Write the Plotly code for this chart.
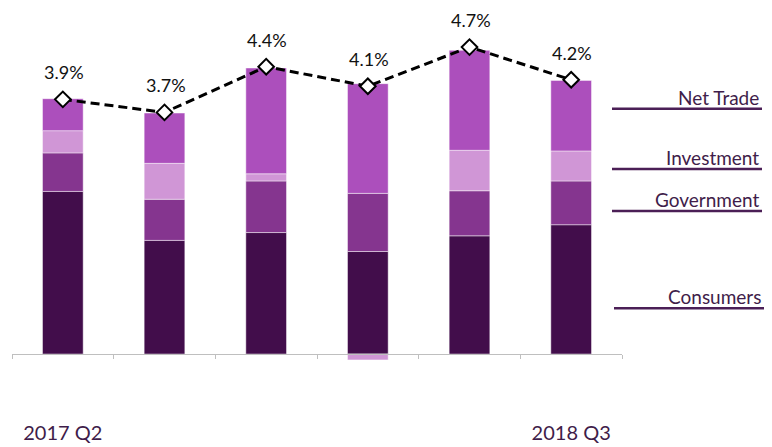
import plotly.graph_objects as go

# ---- data ----
quarters = ["2017 Q2", "2017 Q3", "2017 Q4", "2018 Q1", "2018 Q2", "2018 Q3"]
tick_labels = ["2017 Q2", "", "", "", "", "2018 Q3"]
consumers = [2.49, 1.74, 1.86, 1.57, 1.81, 1.98]
government = [0.59, 0.63, 0.79, 0.89, 0.69, 0.67]
investment = [0.34, 0.55, 0.11, -0.09, 0.62, 0.46]
net_trade = [0.49, 0.77, 1.62, 1.68, 1.53, 1.08]
growth = [3.9, 3.7, 4.4, 4.1, 4.7, 4.2]
growth_labels = [f"{v:.1f}%" for v in growth]
series_names = ["Consumers", "Government", "Investment", "Net Trade"]

# ---- style ----
colors = {
    "Consumers": "#420D4B",
    "Government": "#85358F",
    "Investment": "#D096D6",
    "Net Trade": "#AC4FBC",
}
text_purple = "#3F1D4A"
FONT = "Lato"

W, H = 772, 447
BODY = 8  # default page body margin
ML, MT = 12 - BODY, 20 - BODY
PLOT_W, PLOT_H = 610, 360
MR = W - ML - PLOT_W
MB = H - MT - PLOT_H
YMIN, YMAX = -0.398, 5.115

fig = go.Figure()
for name, vals in zip(series_names, [consumers, government, investment, net_trade]):
    fig.add_trace(go.Bar(
        x=quarters, y=vals, name=name, width=0.4,
        marker=dict(color=colors[name], line=dict(color="rgba(255,255,255,0.45)", width=1)),
        showlegend=False, hoverinfo="skip",
    ))

fig.add_trace(go.Scatter(
    x=quarters, y=growth, mode="lines+markers",
    line=dict(color="black", width=3, dash="9px,5px"),
    marker=dict(symbol="diamond", size=12, color="white", line=dict(color="black", width=2)),
    showlegend=False, hoverinfo="skip", cliponaxis=False,
))

for q, v, t in zip(quarters, growth, growth_labels):
    fig.add_annotation(
        x=q, y=v, text=t, showarrow=False, yshift=27, xshift=1,
        font=dict(family=FONT, size=18, color="#111111"),
    )


def px_to_paper_y(py):
    return (MT + PLOT_H - (py - BODY)) / PLOT_H


def px_to_paper_x(px):
    return (px - BODY - ML) / PLOT_W


# right-side labels with underlines (text centre y, underline y, line x0, line x1)
side = [
    ("Net Trade", 97, 108.7, 612, 762),
    ("Investment", 157, 169, 612, 762),
    ("Government", 199.5, 211, 612, 762),
    ("Consumers", 296, 308.3, 614, 764),
]
for label, ty, ly, x0, x1 in side:
    fig.add_annotation(
        x=px_to_paper_x(x1 - 1), y=px_to_paper_y(ty), xref="paper", yref="paper",
        text=label, showarrow=False, xanchor="right", yanchor="middle",
        font=dict(family=FONT, size=19, color=text_purple),
    )
    fig.add_shape(
        type="line", xref="paper", yref="paper",
        x0=px_to_paper_x(x0), x1=px_to_paper_x(x1),
        y0=px_to_paper_y(ly), y1=px_to_paper_y(ly),
        line=dict(color="#4B1F56", width=2.5),
    )

fig.update_layout(
    width=W, height=H,
    margin=dict(l=ML, r=MR, t=MT, b=MB, autoexpand=False),
    plot_bgcolor="white", paper_bgcolor="white",
    barmode="relative",
    font=dict(family=FONT, color=text_purple),
    xaxis=dict(
        type="category", automargin=False,
        tickmode="array", tickvals=quarters, ticktext=tick_labels,
        tickson="boundaries", ticks="outside", ticklen=4, tickcolor="#BFBFBF",
        showline=True, linecolor="#BFBFBF", linewidth=1,
        showgrid=False, zeroline=False,
        anchor="free", position=(0 - YMIN) / (YMAX - YMIN),
        ticklabelstandoff=61,
        tickfont=dict(family=FONT, size=20, color=text_purple),
    ),
    yaxis=dict(
        range=[YMIN, YMAX], visible=False, showgrid=False, zeroline=False,
        automargin=False,
    ),
)

fig.write_html("out.html")
